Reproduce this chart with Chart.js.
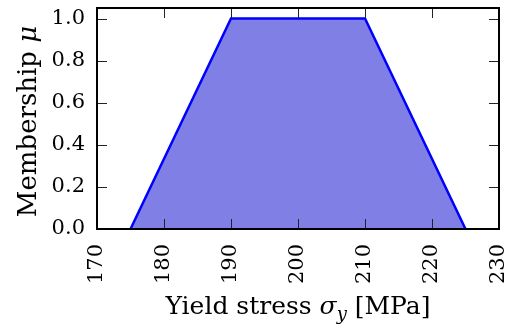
<!DOCTYPE html>
<html lang="en">
<head>
    <meta charset="UTF-8">
    <title>Membership function</title>
    <script src="https://cdn.jsdelivr.net/npm/chart.js"></script>
    <style>
        body {
            margin: 0;
            background-color: #fff;
        }
        canvas {
            display: block;
        }
    </style>
</head>
<body>

    <canvas id="membershipChart" width="513" height="332"></canvas>

    <script>
        // trapezoid membership function for the yield stress
        const stressValues = [175, 190, 210, 225];
        const membershipValues = [0, 1, 1, 0];
        const xTicks = [170, 180, 190, 200, 210, 220, 230];
        const yTicks = [0, 0.2, 0.4, 0.6, 0.8, 1.0];

        const serif = "'DejaVu Serif', serif";

        // inward ticks on all four sides, the frame and the two axis titles
        const framePlugin = {
            id: 'frame',
            afterDatasetsDraw(chart) {
                const ctx = chart.ctx;
                const area = chart.chartArea;
                const xs = chart.scales.x;
                const ys = chart.scales.y;
                const len = 10;

                ctx.save();
                ctx.strokeStyle = '#222';
                ctx.lineWidth = 1;
                ctx.beginPath();
                xTicks.forEach(function (v) {
                    const px = Math.round(xs.getPixelForValue(v)) + 0.5;
                    ctx.moveTo(px, area.bottom);
                    ctx.lineTo(px, area.bottom - len);
                    ctx.moveTo(px, area.top);
                    ctx.lineTo(px, area.top + len);
                });
                yTicks.forEach(function (v) {
                    const py = Math.round(ys.getPixelForValue(v)) + 0.5;
                    ctx.moveTo(area.left, py);
                    ctx.lineTo(area.left + len, py);
                    ctx.moveTo(area.right, py);
                    ctx.lineTo(area.right - len, py);
                });
                ctx.stroke();

                ctx.strokeStyle = '#000';
                ctx.lineWidth = 2;
                ctx.strokeRect(area.left, area.top, area.right - area.left, area.bottom - area.top);

                // x title: Yield stress σ_y [MPa]
                ctx.fillStyle = '#000';
                ctx.textBaseline = 'alphabetic';
                ctx.textAlign = 'left';
                const size = 25;
                const parts = [
                    { t: 'Yield stress ', f: size + 'px ' + serif, dy: 0 },
                    { t: 'σ', f: 'italic ' + size + 'px ' + serif, dy: 0 },
                    { t: 'y', f: 'italic ' + Math.round(size * 0.72) + 'px ' + serif, dy: 6 },
                    { t: ' [MPa]', f: size + 'px ' + serif, dy: 0 }
                ];
                let total = 0;
                parts.forEach(function (p) {
                    ctx.font = p.f;
                    p.w = ctx.measureText(p.t).width;
                    total += p.w;
                });
                let x = (area.left + area.right) / 2 - total / 2;
                const base = area.bottom + 85;
                parts.forEach(function (p) {
                    ctx.font = p.f;
                    ctx.fillText(p.t, x, base + p.dy);
                    x += p.w;
                });

                // y title: Membership μ
                const ysize = 26;
                const yparts = [
                    { t: 'Membership ', f: ysize + 'px ' + serif },
                    { t: 'μ', f: 'italic ' + ysize + 'px ' + serif }
                ];
                total = 0;
                yparts.forEach(function (p) {
                    ctx.font = p.f;
                    p.w = ctx.measureText(p.t).width;
                    total += p.w;
                });
                ctx.translate(36, (area.top + area.bottom) / 2 + 3);
                ctx.rotate(-Math.PI / 2);
                x = -total / 2;
                yparts.forEach(function (p) {
                    ctx.font = p.f;
                    ctx.fillText(p.t, x, 0);
                    x += p.w;
                });
                ctx.restore();
            }
        };

        document.addEventListener('DOMContentLoaded', function () {
            const ctx = document.getElementById('membershipChart').getContext('2d');
            const chart = new Chart(ctx, {
                type: 'line',
                data: {
                    datasets: [{
                        label: 'Membership',
                        data: stressValues.map(function (s, i) {
                            return { x: s, y: membershipValues[i] };
                        }),
                        borderColor: '#0000ff',
                        borderWidth: 2.5,
                        backgroundColor: 'rgba(0, 0, 204, 0.5)',
                        fill: 'origin',
                        pointRadius: 0,
                        tension: 0
                    }]
                },
                options: {
                    responsive: false,
                    animation: false,
                    devicePixelRatio: 1,
                    layout: {
                        padding: { top: 8, right: 14, left: 0, bottom: 0 }
                    },
                    plugins: {
                        legend: { display: false },
                        tooltip: { enabled: false }
                    },
                    scales: {
                        x: {
                            type: 'linear',
                            min: 170,
                            max: 230,
                            grid: { display: false, drawTicks: false },
                            border: { display: false },
                            afterBuildTicks: function (scale) {
                                scale.ticks = xTicks.map(function (v) { return { value: v }; });
                            },
                            afterFit: function (scale) {
                                scale.height = 103;
                                scale.paddingLeft = 0;
                                scale.paddingRight = 0;
                            },
                            ticks: {
                                autoSkip: false,
                                minRotation: 90,
                                maxRotation: 90,
                                padding: 15,
                                color: '#000',
                                font: { family: serif, size: 21 }
                            }
                        },
                        y: {
                            min: 0,
                            max: 1.05,
                            grid: { display: false, drawTicks: false },
                            border: { display: false },
                            afterBuildTicks: function (scale) {
                                scale.ticks = yTicks.map(function (v) { return { value: v }; });
                            },
                            afterFit: function (scale) {
                                scale.width = 97;
                                scale.paddingTop = 0;
                                scale.paddingBottom = 0;
                            },
                            ticks: {
                                padding: 12,
                                color: '#000',
                                font: { family: serif, size: 21 },
                                callback: function (v) { return v.toFixed(1); }
                            }
                        }
                    }
                },
                plugins: [framePlugin]
            });
        });
    </script>

</body>
</html>
